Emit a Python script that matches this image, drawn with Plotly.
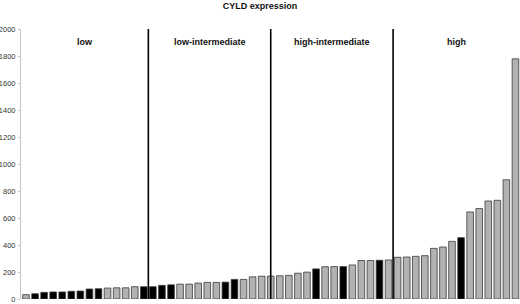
import plotly.graph_objects as go

samples = list(range(1, 56))
cyld_values = [32, 39, 49, 52, 52, 57, 59, 74, 76, 81, 83, 83, 91, 91, 91, 101, 105, 110, 110, 118,
               123, 123, 125, 145, 145, 164, 169, 170, 172, 175, 191, 199, 223, 239, 240, 240, 252, 285, 285, 287,
               289, 309, 311, 316, 321, 375, 385, 427, 454, 645, 670, 726, 731, 883, 1779]
highlighted = [2, 3, 4, 5, 6, 7, 8, 9, 14, 15, 16, 17, 23, 24, 33, 36, 40, 49]
group_labels = ["low", "low-intermediate", "high-intermediate", "high"]
group_bounds = [13.5, 27, 40.5]
y_ticks = list(range(0, 2001, 200))

colors = ["#000000" if s in highlighted else "#b2b2b2" for s in samples]
xs = [s - 1 for s in samples]

fig = go.Figure()
fig.add_trace(go.Bar(
    x=xs, y=cyld_values,
    marker=dict(color=colors, line=dict(color="#3a3a3a", width=0.8)),
    width=0.73,
))

for b in group_bounds:
    fig.add_shape(type="line", xref="x", yref="y", x0=b, x1=b, y0=0, y1=2000,
                  line=dict(color="#000000", width=1.6))

edges = [-0.55] + group_bounds + [54.5]
for i, lab in enumerate(group_labels):
    fig.add_annotation(x=(edges[i] + edges[i + 1]) / 2, y=1905, xref="x", yref="y",
                       text="<b>%s</b>" % lab, showarrow=False,
                       font=dict(size=9, color="#111111", family="Arial, Liberation Sans"))

fig.update_layout(
    width=520, height=304,
    margin=dict(l=21, r=0, t=29, b=5, autoexpand=False),
    paper_bgcolor="white", plot_bgcolor="white",
    showlegend=False,
    title=dict(text="<b>CYLD expression</b>", x=0.5, xanchor="center", y=1 - 5.5 / 304, yanchor="middle",
               font=dict(size=9, color="#111111", family="Arial, Liberation Sans")),
    font=dict(family="Arial, Liberation Sans", size=7.5, color="#222222"),
    bargap=0.27,
)
fig.update_xaxes(range=[-0.55, 54.5], showticklabels=False, showgrid=False, zeroline=False,
                 showline=False, ticks="", automargin=False)
fig.update_yaxes(range=[0, 2000], tickvals=y_ticks, showgrid=False, zeroline=False,
                 showline=True, linecolor="#c4c4c4", linewidth=1, ticks="outside", ticklen=2,
                 tickcolor="#c4c4c4", ticklabelstandoff=1, automargin=False,
                 ticklabeloverflow="allow",
                 tickfont=dict(size=7.5, color="#333333"))

fig.write_html("out.html", config={"displayModeBar": False},
               post_script="document.body.style.margin='0';")
